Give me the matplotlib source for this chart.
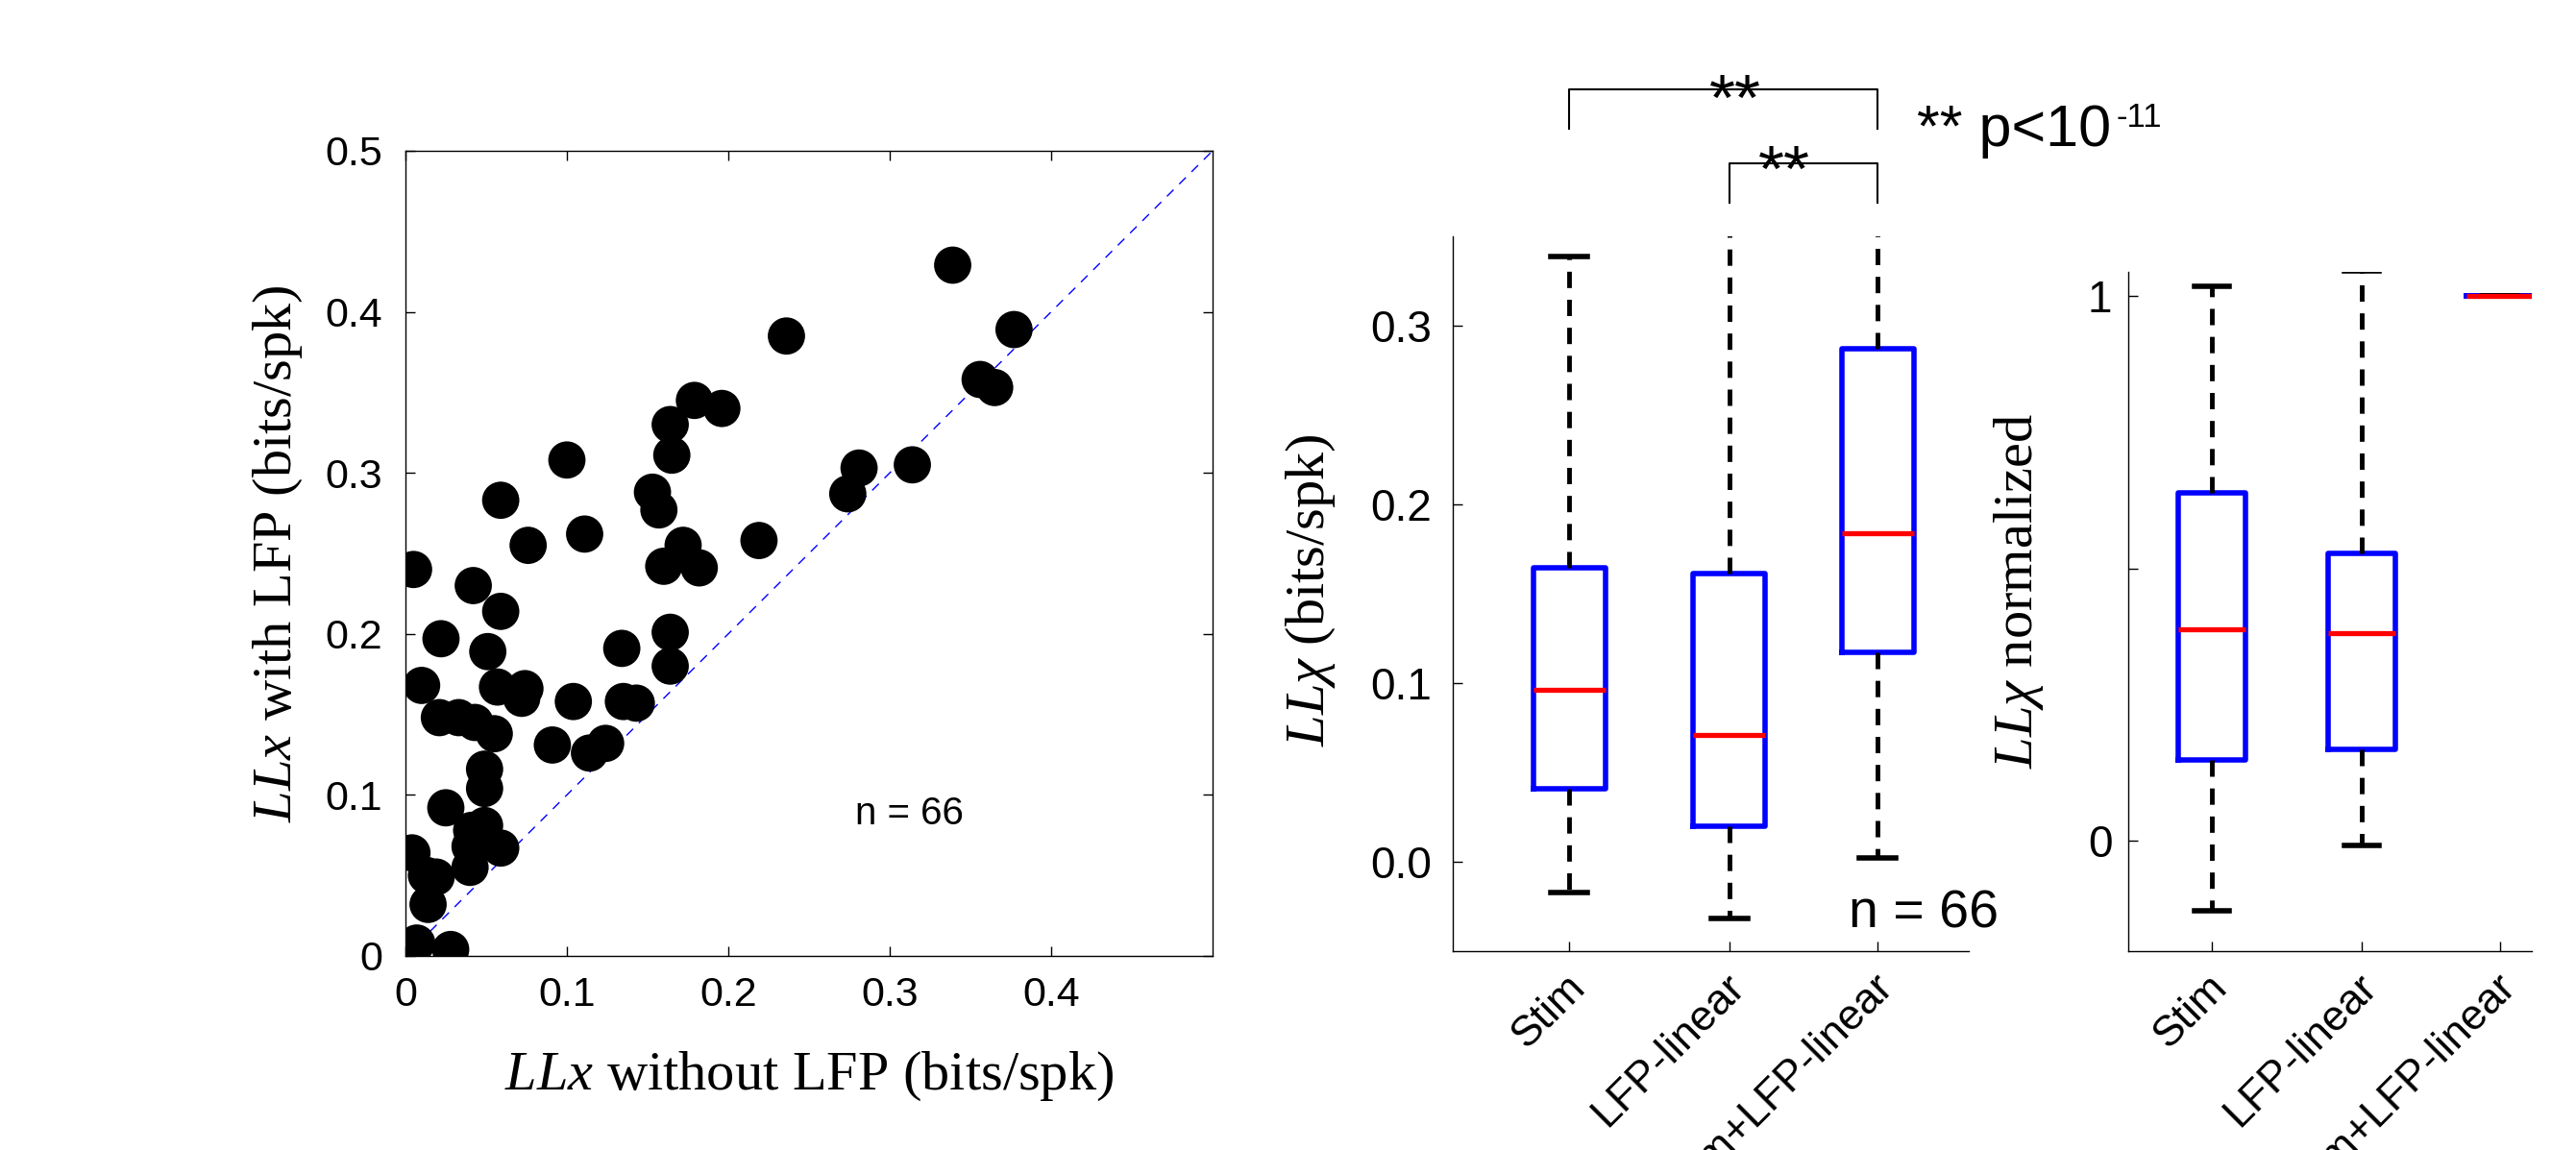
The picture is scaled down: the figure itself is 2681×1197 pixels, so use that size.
import matplotlib
matplotlib.use("Agg")
import matplotlib.pyplot as plt
import matplotlib.transforms as mtransforms

plt.rcParams['font.family'] = ['Liberation Sans', 'DejaVu Sans']
plt.rcParams['mathtext.fontset'] = 'custom'
plt.rcParams['mathtext.rm'] = 'Liberation Serif'
plt.rcParams['mathtext.it'] = 'Liberation Serif:italic'

# ── scatter: LLx without LFP vs with LFP (bits/spk), n = 66 ──────────────────
llx_without = [0.005, 0.010, 0.004, 0.007, 0.028, 0.013, 0.019, 0.014, 0.022,
               0.021, 0.033, 0.043, 0.055, 0.025, 0.042, 0.059, 0.051, 0.059,
               0.057, 0.072, 0.074, 0.076, 0.049, 0.049, 0.041, 0.049, 0.040,
               0.040, 0.059, 0.091, 0.100, 0.104, 0.111, 0.114, 0.124, 0.134,
               0.135, 0.143, 0.153, 0.157, 0.164, 0.165, 0.179, 0.196, 0.172,
               0.160, 0.182, 0.164, 0.164, 0.219, 0.236, 0.274, 0.281, 0.314,
               0.339, 0.356, 0.365, 0.377]
llx_with = [0.240, 0.168, 0.064, 0.008, 0.004, 0.050, 0.049, 0.032, 0.197,
            0.148, 0.148, 0.145, 0.138, 0.092, 0.230, 0.214, 0.189, 0.283,
            0.167, 0.160, 0.166, 0.255, 0.116, 0.104, 0.078, 0.081, 0.068,
            0.055, 0.067, 0.131, 0.308, 0.158, 0.262, 0.126, 0.132, 0.191,
            0.158, 0.157, 0.288, 0.277, 0.330, 0.311, 0.345, 0.340, 0.255,
            0.242, 0.241, 0.201, 0.180, 0.258, 0.385, 0.287, 0.303, 0.305,
            0.429, 0.358, 0.353, 0.389]
diag = [0.0, 0.5]

# ── box plots: per-model summary statistics ──────────────────────────────────
models = ["Stim", "LFP-linear", "Stim+LFP-linear"]

raw_whislo = [-0.017, -0.0315, 0.002]
raw_q1 = [0.041, 0.0197, 0.1172]
raw_med = [0.096, 0.0708, 0.184]
raw_q3 = [0.1644, 0.1612, 0.2871]
raw_whishi = [0.3386, 0.37, 0.38]

norm_whislo = [-0.129, -0.009, 1.0]
norm_q1 = [0.148, 0.168, 1.0]
norm_med = [0.389, 0.381, 1.0]
norm_q3 = [0.639, 0.528, 1.0]
norm_whishi = [1.019, 1.046, 1.0]


def make_stats(lo, q1, med, q3, hi):
    return [dict(whislo=lo[i], q1=q1[i], med=med[i], q3=q3[i], whishi=hi[i],
                 fliers=[], label=models[i]) for i in range(len(models))]


W, H = 2681, 1197
fig = plt.figure(figsize=(W / 100, H / 100), dpi=100)

TICK_FS = 31
LABEL_FS = 42
serif = 'Liberation Serif'

# ── left: scatter ────────────────────────────────────────────────────────────
ax = fig.add_axes([422 / W, 1 - 995 / H, 840 / W, 838 / H])
ax.scatter(llx_without, llx_with, s=780, color='black', edgecolors='none',
           zorder=3)
ax.plot(diag, diag, color='blue', lw=1.0, linestyle=(0, (7, 6)), zorder=2)
ax.set_xlim(0, 0.5)
ax.set_ylim(0, 0.5)
ax.set_xticks([0, 0.1, 0.2, 0.3, 0.4])
ax.set_xticklabels(["0", "0.1", "0.2", "0.3", "0.4"])
ax.set_yticks([0, 0.1, 0.2, 0.3, 0.4, 0.5])
ax.set_yticklabels(["0", "0.1", "0.2", "0.3", "0.4", "0.5"])
ax.tick_params(direction='in', length=7, width=1, top=True, right=True,
               labelsize=TICK_FS)
ax.tick_params(axis='x', pad=15)
ax.tick_params(axis='y', pad=17)
for sp in ax.spines.values():
    sp.set_linewidth(1.0)
ax.set_xlabel(r'$LLx$ without LFP (bits/spk)', fontsize=LABEL_FS,
              family=serif)
ax.set_ylabel(r'$LLx$ with LFP (bits/spk)', fontsize=LABEL_FS, family=serif)
ax.xaxis.set_label_coords(0.5, -0.117)
ax.yaxis.set_label_coords(-0.125, 0.5)
ax.text(0.2786, 0.082, "n = 66", fontsize=29)

positions = [1, 2, 2.93]
box_kw = dict(positions=positions, widths=0.45, capwidths=0.23,
              showfliers=False, manage_ticks=False,
              boxprops=dict(color='blue', lw=4),
              whiskerprops=dict(color='black', lw=3.5,
                                linestyle=(0, (3.5, 2.5))),
              capprops=dict(color='black', lw=4),
              medianprops=dict(color='red', lw=3.8))

label_shift = mtransforms.ScaledTranslation(10 / 100, 0, fig.dpi_scale_trans)


def style_box_axes(a):
    a.spines['top'].set_visible(False)
    a.spines['right'].set_visible(False)
    for sp in ('left', 'bottom'):
        a.spines[sp].set_linewidth(1.0)
    a.tick_params(direction='in', length=7, width=1, labelsize=33)
    a.set_xticks(positions)
    a.set_xticklabels(models, rotation=45, ha='right', va='center',
                      rotation_mode='anchor', fontsize=32)
    a.tick_params(axis='x', pad=22)
    for lab in a.get_xticklabels():
        lab.set_transform(lab.get_transform() + label_shift)


# ── middle: raw LLx box plot ─────────────────────────────────────────────────
ax1 = fig.add_axes([1512 / W, 1 - 990 / H, 537 / W, 744 / H])
ax1.bxp(make_stats(raw_whislo, raw_q1, raw_med, raw_q3, raw_whishi), **box_kw)
ax1.set_xlim(0.27, 3.5)
ax1.set_ylim(-0.05, 0.35)
ax1.set_yticks([0.0, 0.1, 0.2, 0.3])
ax1.set_yticklabels(["0.0", "0.1", "0.2", "0.3"])
style_box_axes(ax1)
ax1.tick_params(axis='y', pad=16)
ax1.set_ylabel(r'$LL\chi$ (bits/spk)', fontsize=LABEL_FS, family=serif)
ax1.yaxis.set_label_coords(-0.2235, 0.505)
ax1.text(2.747, -0.037, "n = 66", fontsize=40)

# significance brackets
ax1.plot([1, 1, 2.93, 2.93], [0.410, 0.432, 0.432, 0.410], color='black',
         lw=1.5, clip_on=False)
ax1.plot([2, 2, 2.93, 2.93], [0.369, 0.391, 0.391, 0.369], color='black',
         lw=1.5, clip_on=False)
ax1.text(2.036, 0.4150, "**", fontsize=50, ha='center', va='baseline')
ax1.text(2.343, 0.3755, "**", fontsize=50, ha='center', va='baseline')

fig.text(1995 / W, 1 - 152 / H, "** p<10", fontsize=44, ha='left',
         va='baseline')
fig.text(2203 / W, 1 - 132 / H, "-11", fontsize=25, ha='left', va='baseline')

# ── right: normalized box plot ───────────────────────────────────────────────
ax2 = fig.add_axes([2215 / W, 1 - 990 / H, 420 / W, 707 / H])
ax2.bxp(make_stats(norm_whislo, norm_q1, norm_med, norm_q3, norm_whishi),
        **box_kw)
ax2.set_xlim(0.44, 3.14)
ax2.set_ylim(-0.203, 1.045)
ax2.set_yticks([0, 0.5, 1])
ax2.set_yticklabels(["0", "", "1"])
style_box_axes(ax2)
ax2.tick_params(axis='y', pad=12)
ax2.set_ylabel(r'$LL\chi$ normalized', fontsize=LABEL_FS, family=serif)
ax2.yaxis.set_label_coords(-0.205, 0.53)

fig.savefig("out.png", dpi=100)
